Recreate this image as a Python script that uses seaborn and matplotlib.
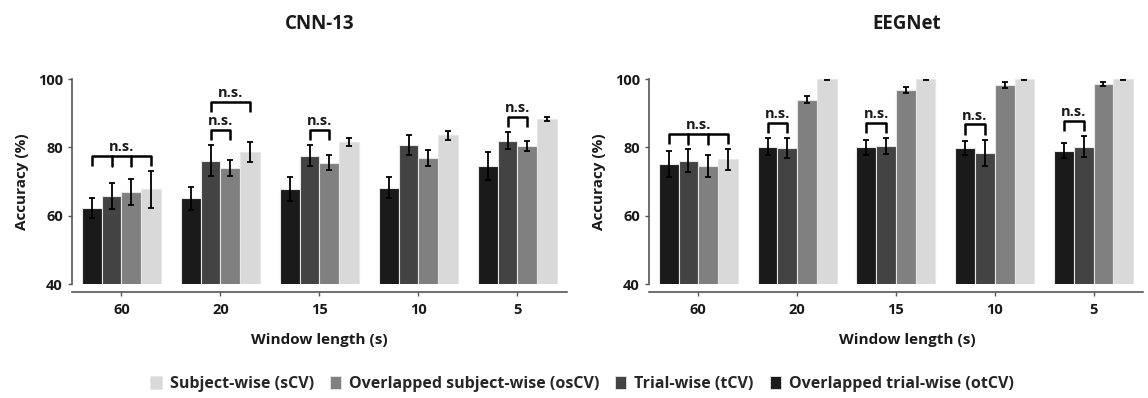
import numpy as np
import pandas as pd
import matplotlib
matplotlib.use("Agg")
import matplotlib.pyplot as plt
from matplotlib.patches import Patch
import seaborn as sns

# ---------------- data ----------------
windows = ["60", "20", "15", "10", "5"]
methods = ["otCV", "tCV", "osCV", "sCV"]
method_labels = {
    "sCV": "Subject-wise (sCV)",
    "osCV": "Overlapped subject-wise (osCV)",
    "tCV": "Trial-wise (tCV)",
    "otCV": "Overlapped trial-wise (otCV)",
}
legend_order = ["sCV", "osCV", "tCV", "otCV"]

# CNN-13
cnn_otcv = [62.3, 65.1, 67.7, 68.2, 74.5]
cnn_otcv_err = [3.0, 3.4, 3.5, 3.0, 4.1]
cnn_tcv = [65.8, 76.1, 77.5, 80.7, 82.0]
cnn_tcv_err = [3.9, 4.6, 3.1, 2.8, 2.5]
cnn_oscv = [66.9, 73.9, 75.5, 76.8, 80.5]
cnn_oscv_err = [3.7, 2.3, 2.2, 2.3, 1.5]
cnn_scv = [67.7, 78.6, 81.6, 83.5, 88.4]
cnn_scv_err = [5.4, 3.0, 1.2, 1.3, 0.6]

# EEGNet
eeg_otcv = [75.0, 80.2, 80.0, 79.8, 79.0]
eeg_otcv_err = [3.8, 2.4, 2.2, 2.0, 2.2]
eeg_tcv = [76.1, 79.8, 80.4, 78.3, 80.2]
eeg_tcv_err = [3.4, 2.8, 2.3, 3.9, 3.0]
eeg_oscv = [74.6, 94.0, 96.8, 98.2, 98.5]
eeg_oscv_err = [3.2, 1.0, 1.0, 0.8, 0.6]
eeg_scv = [76.5, 100.0, 100.0, 100.0, 100.0]
eeg_scv_err = [3.0, 0.2, 0.2, 0.2, 0.2]

# significance brackets: (window index, compared method indices, stack level)
cnn_brackets = [(0, [0, 1, 2, 3], 0), (1, [1, 2], 0), (1, [1, 3], 1), (2, [1, 2], 0), (4, [1, 2], 0)]
eeg_brackets = [(0, [0, 1, 2, 3], 0), (1, [0, 1], 0), (2, [0, 1], 0), (3, [0, 1], 0), (4, [0, 1], 0)]

colors = {"otCV": "#1a1a1a", "tCV": "#434343", "osCV": "#808080", "sCV": "#d9d9d9"}


def make_df(vals, errs):
    rows = []
    for m in methods:
        for w, v, e in zip(windows, vals[m], errs[m]):
            rows.append({"window": w, "method": m, "acc": v, "err": e})
    return pd.DataFrame(rows)


cnn_df = make_df(
    {"otCV": cnn_otcv, "tCV": cnn_tcv, "osCV": cnn_oscv, "sCV": cnn_scv},
    {"otCV": cnn_otcv_err, "tCV": cnn_tcv_err, "osCV": cnn_oscv_err, "sCV": cnn_scv_err},
)
eeg_df = make_df(
    {"otCV": eeg_otcv, "tCV": eeg_tcv, "osCV": eeg_oscv, "sCV": eeg_scv},
    {"otCV": eeg_otcv_err, "tCV": eeg_tcv_err, "osCV": eeg_oscv_err, "sCV": eeg_scv_err},
)

# ---------------- style ----------------
sns.set_theme(style="ticks")
plt.rcParams["font.family"] = ["Open Sans", "DejaVu Sans"]
plt.rcParams["font.weight"] = "bold"
TXT = "#1a1a1a"
SPINE = "#555555"

fig = plt.figure(figsize=(11.48, 3.98), dpi=100)
ax1 = fig.add_axes([0.0627, 0.2864, 0.4312, 0.5151])
ax2 = fig.add_axes([0.5653, 0.2864, 0.4303, 0.5151])


def draw(ax, df, brackets, title, title_x):
    sns.barplot(
        data=df, x="window", y="acc", hue="method",
        order=windows, hue_order=methods, palette=colors,
        errorbar=None, width=0.8, edgecolor="#e6e6e6", linewidth=0.8,
        legend=False, ax=ax,
    )
    centers = {}
    for m, cont in zip(methods, ax.containers):
        sub = df[df.method == m].set_index("window").loc[windows]
        xs = [b.get_x() + b.get_width() / 2 for b in cont]
        ys = [b.get_height() for b in cont]
        centers[m] = xs
        ax.errorbar(xs, ys, yerr=sub["err"].values, fmt="none", ecolor="black",
                    elinewidth=1.3, capsize=2.3, capthick=1.3, zorder=5)

    for (g, idx, level) in brackets:
        ms = [methods[k] for k in idx]
        w = windows[g]
        tops = [df[(df.method == m) & (df.window == w)][["acc", "err"]].sum(axis=1).iloc[0] for m in ms]
        yb = max(tops) + 1.5 + level * 7.3
        yt = yb + 3.0
        xs = [centers[m][g] for m in ms]
        ax.plot([xs[0], xs[0], xs[-1], xs[-1]], [yb, yt, yt, yb], color="black",
                lw=1.8, solid_joinstyle="round", solid_capstyle="butt", clip_on=False, zorder=6)
        for x in xs[1:-1]:
            ax.plot([x, x], [yb, yt], color="black", lw=1.8, clip_on=False, zorder=6)
        ax.text((xs[0] + xs[-1]) / 2, yt + 0.5, "n.s.", ha="center", va="bottom",
                fontsize=10.5, fontweight="bold", color=TXT, clip_on=False)

    ax.set_ylim(40, 100)
    ax.set_xlim(-0.5, 4.5)
    ax.set_yticks([40, 60, 80, 100])
    ax.tick_params(axis="both", labelsize=10.5, colors=SPINE, labelcolor=TXT, length=3, width=1)
    ax.tick_params(axis="x", pad=5)
    for lab in ax.get_xticklabels() + ax.get_yticklabels():
        lab.set_fontweight("bold")
    ax.set_ylabel("Accuracy (%)", fontsize=11, fontweight="bold", color=TXT, labelpad=6)
    ax.set_xlabel("Window length (s)", fontsize=11, fontweight="bold", color=TXT,
                  labelpad=11, x=title_x)
    ax.set_title(title, fontsize=13.5, fontweight="bold", color=TXT, pad=36, x=title_x)
    sns.despine(ax=ax, offset={"bottom": 6})
    for s in ("left", "bottom"):
        ax.spines[s].set_color(SPINE)
        ax.spines[s].set_linewidth(1.2)


draw(ax1, cnn_df, cnn_brackets, "CNN-13", 0.5)
draw(ax2, eeg_df, eeg_brackets, "EEGNet", 0.522)

handles = [Patch(facecolor=colors[m], edgecolor="#e6e6e6", linewidth=0.6) for m in legend_order]
fig.legend(handles, [method_labels[m] for m in legend_order], loc="center",
           bbox_to_anchor=(0.507, 0.035), ncol=4, frameon=False,
           handlelength=0.7, handleheight=0.9, handletextpad=0.5, columnspacing=1.0,
           prop={"weight": "bold", "size": 11.5})

fig.savefig("out.png", dpi=100)
